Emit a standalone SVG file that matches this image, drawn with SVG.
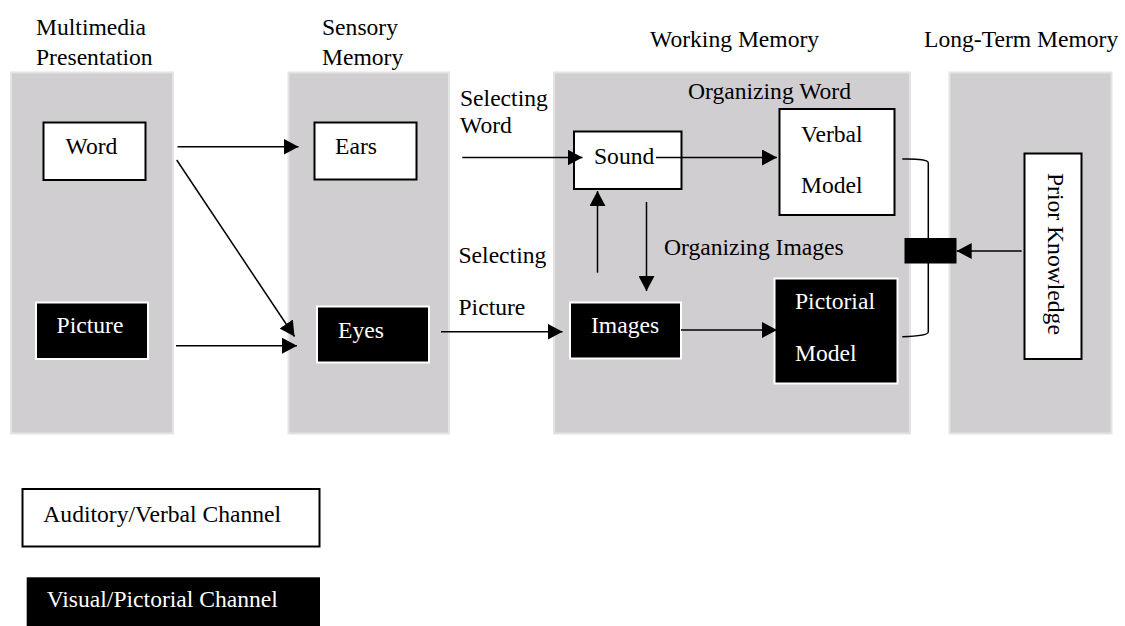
<svg xmlns="http://www.w3.org/2000/svg" width="1125" height="626" viewBox="0 0 1125 626">
<style>
text{font-family:"Liberation Serif","Times New Roman",serif;font-size:23.6px;fill:#000}
.w{fill:#fff}
.panel{fill:#d0ced0;stroke:#e4e4e4;stroke-width:2}
.wb{fill:#fff;stroke:#000;stroke-width:2}
.bb{fill:#000;stroke:#fff;stroke-width:2}
.c{stroke:#000;stroke-width:1.5;fill:none}
</style>
<defs>
<marker id="ah" markerUnits="userSpaceOnUse" markerWidth="16" markerHeight="16" viewBox="0 0 16 16" refX="15" refY="8" orient="auto">
<path d="M0,0 L15,8 L0,16 Z" fill="#000"/>
</marker>
</defs>
<g id="panels">
<rect id="panel-multimedia" class="panel" x="11" y="72.5" width="162" height="361"/>
<rect id="panel-sensory" class="panel" x="288.5" y="72.5" width="160.5" height="361"/>
<rect id="panel-working" class="panel" x="554" y="72.5" width="356" height="361"/>
<rect id="panel-longterm" class="panel" x="949.5" y="72.5" width="162" height="361"/>
</g>
<g id="headers">
<text x="36" y="35">Multimedia</text>
<text x="36" y="65">Presentation</text>
<text x="322" y="35">Sensory</text>
<text x="322" y="65">Memory</text>
<text x="650" y="47">Working Memory</text>
<text x="924" y="47">Long-Term Memory</text>
<text x="460" y="106">Selecting</text>
<text x="460" y="133">Word</text>
<text x="688" y="99">Organizing Word</text>
<text x="664" y="255">Organizing Images</text>
<text x="458.5" y="263">Selecting</text>
<text x="458.5" y="315">Picture</text>
</g>
<g id="node-word"><rect class="wb" x="43.5" y="122.5" width="102" height="57.5"/><text x="91.5" y="154" text-anchor="middle">Word</text></g>
<g id="node-picture"><rect class="bb" x="36" y="302.5" width="112" height="56.5"/><text class="w" x="90" y="333" text-anchor="middle">Picture</text></g>
<g id="node-ears"><rect class="wb" x="314.5" y="122.5" width="102" height="57"/><text x="335" y="154">Ears</text></g>
<g id="node-eyes"><rect class="bb" x="317" y="306.5" width="112" height="56"/><text class="w" x="338" y="338">Eyes</text></g>
<g id="node-sound"><rect class="wb" x="574" y="131.5" width="107.5" height="57.5"/><text x="594" y="164">Sound</text></g>
<g id="node-images"><rect class="bb" x="570" y="302.5" width="111" height="56"/><text class="w" x="591" y="333">Images</text></g>
<g id="node-verbal"><rect class="wb" x="779.5" y="109" width="115" height="106"/><text x="801" y="142">Verbal</text><text x="801" y="193">Model</text></g>
<g id="node-pictorial"><rect class="bb" x="774.5" y="278.5" width="123" height="105"/><text class="w" x="795" y="309">Pictorial</text><text class="w" x="795" y="361">Model</text></g>
<g id="node-integrate"><rect x="904.5" y="238" width="52" height="25.5" fill="#000"/></g>
<g id="node-prior"><rect class="wb" x="1024.5" y="153.5" width="57" height="205.5"/><text transform="translate(1048,173) rotate(90)">Prior Knowledge</text></g>
<g id="connectors">
<line class="c" x1="177.5" y1="146.7" x2="298.5" y2="146.7" marker-end="url(#ah)"/>
<line class="c" x1="176.7" y1="160" x2="294.5" y2="336.5" marker-end="url(#ah)"/>
<line class="c" x1="176" y1="345.7" x2="297" y2="345.7" marker-end="url(#ah)"/>
<line class="c" x1="462.3" y1="157.5" x2="582.5" y2="157.5" marker-end="url(#ah)"/>
<line class="c" x1="441" y1="331.7" x2="562.5" y2="331.7" marker-end="url(#ah)"/>
<line class="c" x1="656" y1="157.5" x2="777" y2="157.5" marker-end="url(#ah)"/>
<line class="c" x1="681" y1="330" x2="777" y2="330" marker-end="url(#ah)"/>
<line class="c" x1="597.5" y1="272.7" x2="597.5" y2="191" marker-end="url(#ah)"/>
<line class="c" x1="646.5" y1="202" x2="646.5" y2="291" marker-end="url(#ah)"/>
<line class="c" x1="1021.7" y1="251" x2="956.7" y2="251" marker-end="url(#ah)"/>
<path class="c" d="M902.3,159 Q928.3,158.5 928.3,163 L928.3,332 Q928.3,336 902.3,336.7"/>
</g>
<g id="legend">
<g id="legend-auditory"><rect class="wb" x="22.5" y="489" width="297" height="57.5"/><text x="43.3" y="521.7">Auditory/Verbal Channel</text></g>
<g id="legend-visual"><rect x="26.7" y="577.3" width="293.3" height="50" fill="#000"/><text class="w" x="46.7" y="606.7">Visual/Pictorial Channel</text></g>
</g>
</svg>
